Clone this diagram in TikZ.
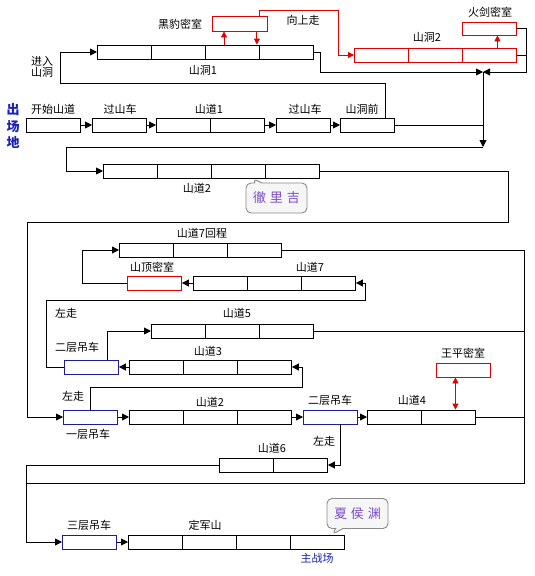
\documentclass[tikz,border=0pt]{standalone}
\usepackage{fontspec}
\newfontfamily\cjk{Noto Sans CJK SC}
\usepackage{tikz}
\usetikzlibrary{arrows.meta, shapes.callouts, calc}
\usepackage{xcolor}
\definecolor{roomred}{HTML}{E00000}
\definecolor{liftblue}{HTML}{1C1C9C}
\definecolor{inkblue}{HTML}{1A22B8}
\definecolor{callpurple}{HTML}{7A4BC8}
\definecolor{callgray}{HTML}{8A8A8A}

\begin{document}
\begin{tikzpicture}[x=1pt, y=-1pt, line width=0.9pt,
    every node/.style={font=\cjk\fontsize{11}{12}\selectfont},
    cell/.style={draw, minimum width=54pt, minimum height=14pt, inner sep=0pt, anchor=west},
    room/.style={cell, draw=roomred},
    lift/.style={cell, draw=liftblue},
    arr/.style={-{Triangle[length=7pt,width=7pt]}},
    redarr/.style={roomred, -{Triangle[length=6pt,width=6pt]}},
    callbox/.style={rectangle callout, draw=callgray, fill=callgray!8, rounded corners=5pt, minimum width=61pt, minimum height=30pt, text=callpurple, font=\cjk\fontsize{13}{13}\selectfont}]
        \path[use as bounding box, fill=white] (0,0) rectangle (535,576);

        % Start area
        \node[font=\cjk\bfseries\fontsize{13}{16.5}\selectfont, text=inkblue, align=center] (chu) at (13,126) {出\\场\\地};
        \node[cell] (start) at (26,125) {};
        \node (t-start) at (53,109) {开始山道};
        \node[cell] (car1) at (92,125) {};
        \node (t-car1) at (120,109) {过山车};
        \foreach \i in {1,2}
            \node[cell] (dao1-\i) at ({156+54*(\i-1)},125) {};
        \node (t-dao1) at (209,109) {山道1};
        \node[cell] (car2) at (276,125) {};
        \node (t-car2) at (305,109) {过山车};
        \node[cell] (qian) at (340,125) {};
        \node (t-qian) at (362,109) {山洞前};
        \draw[arr] (start.east) -- (car1.west);
        \draw[arr] (car1.east) -- (dao1-1.west);
        \draw[arr] (dao1-2.east) -- (car2.west);
        \draw[arr] (car2.east) -- (qian.west);

        % Cave 1 and the leopard room
        \foreach \i in {1,...,4}
            \node[cell] (dong1-\i) at ({97+54*(\i-1)},52) {};
        \node (t-dong1) at (203,70) {山洞1};
        \node[align=center, font=\cjk\fontsize{11}{11.5}\selectfont] (t-enter) at (42,67) {进入\\山洞};
        \draw[arr] ([xshift=18pt]qian.north) |- (60,83) |- (dong1-1.west);
        \node[room, minimum width=55pt, minimum height=15pt] (heibao) at (212,23.5) {};
        \node (t-heibao) at (180,24) {黑豹密室};
        \coordinate (up1) at ($(dong1-3.north west)+(19,0)$);
        \coordinate (dn1) at ($(dong1-3.north east)+(-3,0)$);
        \draw[redarr] (up1) -- (up1 |- heibao.south);
        \draw[redarr] (dn1 |- heibao.south) -- (dn1);

        % Cave 2 and the fire sword room
        \foreach \i in {1,2,3}
            \node[room] (dong2-\i) at ({354+54*(\i-1)},55) {};
        \node (t-dong2) at (427,37) {山洞2};
        \draw[redarr] ([xshift=-8pt]heibao.north east) |- (338,10) |- (dong2-1.west);
        \node (t-up) at (303,20) {向上走};
        \node[room, minimum height=13pt] (huojian) at (462,28.5) {};
        \node (t-huojian) at (490,12) {火剑密室};
        \draw[redarr] ([xshift=8pt]dong2-3.north) -- ([xshift=8pt]huojian.south);

        % Merge towards road 2
        \coordinate (junc) at (483,72);
        \coordinate (turn) at (483,147);
        \draw[arr] (huojian.east) -- (526,28.5) |- (junc);
        \draw (dong2-3.east) -- (526,55);
        \draw[arr] (dong1-4.east) -- (320,52) |- (junc);
        \draw[arr] (junc) -- (turn);
        \draw (qian.east) -- (qian.east -| turn);

        % Road 2
        \foreach \i in {1,...,4}
            \node[cell] (dao2a-\i) at ({103+54*(\i-1)},171) {};
        \node (t-dao2a) at (197,188) {山道2};
        \draw[arr] (turn) -- (66,147) |- (dao2a-1.west);
        \node[callbox, callout absolute pointer={($(dao2a-3.south east)+(-13,0)$)}] (cheli) at (276.5,198) {徹\hspace{4pt}里\hspace{4pt}吉};

        % Road 7 and its way back
        \foreach \i in {1,2,3}
            \node[cell] (hc-\i) at ({119+54*(\i-1)},250) {};
        \node (t-hc) at (202,233) {山道7回程};
        \node[room] (sdmz) at (127,283) {};
        \node (t-sdmz) at (152,267) {山顶密室};
        \foreach \i in {1,2,3}
            \node[cell] (dao7-\i) at ({193+54*(\i-1)},283) {};
        \node (t-dao7) at (310,267) {山道7};
        \draw[arr] (dao7-1.west) -- (sdmz.east);
        \draw[arr] (sdmz.west) -- ++(-45,0) |- (hc-1.west);

        % Road 5 and road 3
        \node[lift] (ych2a) at (64,367) {};
        \node (t-ych2a) at (77,347) {二层吊车};
        \foreach \i in {1,2,3}
            \node[cell] (dao5-\i) at ({151+54*(\i-1)},331) {};
        \node (t-dao5) at (237,313) {山道5};
        \foreach \i in {1,2,3}
            \node[cell] (dao3-\i) at ({129+54*(\i-1)},367) {};
        \node (t-dao3) at (208,351) {山道3};
        \draw[arr] (ych2a.west) -- ++(-18,0) |- (365,300) |- (dao7-3.east);
        \node (t-left1) at (66,313) {左走};
        \draw[arr] ([xshift=16pt]ych2a.north) |- (dao5-1.west);
        \draw[arr] (dao3-1.west) -- (ych2a.east);

        % Lower road 2, road 4 and Wang Ping's room
        \node[lift] (ych1) at (63,417) {};
        \node (t-ych1) at (88,434) {一层吊车};
        \foreach \i in {1,2,3}
            \node[cell] (dao2b-\i) at ({129+54*(\i-1)},417) {};
        \node (t-dao2b) at (210,402) {山道2};
        \node[lift] (ych2b) at (303,417) {};
        \node (t-ych2b) at (330,400) {二层吊车};
        \foreach \i in {1,2}
            \node[cell] (dao4-\i) at ({367+54*(\i-1)},417) {};
        \node (t-dao4) at (412,400) {山道4};
        \node[room] (wpmz) at (436,370) {};
        \node (t-wpmz) at (463,353) {王平密室};
        \draw[arr] (dao2a-4.east) -- (508,171) |- (27,222) |- (ych1.west);
        \draw[arr] (ych1.north) |- (302,387) |- (dao3-3.east);
        \node (t-left2) at (73,396) {左走};
        \draw[arr] (ych1.east) -- (dao2b-1.west);
        \draw[arr] (dao2b-3.east) -- (ych2b.west);
        \draw[arr] (ych2b.east) -- (dao4-1.west);
        \draw[roomred, {Triangle[length=6pt,width=6pt]}-{Triangle[length=6pt,width=6pt]}] ([xshift=-8pt]wpmz.south) -- ([xshift=-8pt]wpmz.south |- dao4-2.north);

        % Road 6
        \foreach \i in {1,2}
            \node[cell] (dao6-\i) at ({219+54*(\i-1)},465) {};
        \node (t-dao6) at (272,448) {山道6};
        \draw[arr] ([xshift=10pt]ych2b.south) |- (dao6-2.east);
        \node (t-left3) at (324,441) {左走};

        % Dingjun Mountain
        \node[lift] (ych3) at (62,542) {};
        \node (t-ych3) at (89,525) {三层吊车};
        \foreach \i in {1,...,4}
            \node[cell] (djs-\i) at ({128+54*(\i-1)},542) {};
        \node (t-djs) at (205,525) {定军山};
        \node[text=inkblue] (t-main) at (317,558) {主战场};
        \draw[arr] (ych3.east) -- (djs-1.west);
        \node[callbox, callout absolute pointer={($(djs-4.north west)+(42,0)$)}] (xiahou) at (357.5,513.5) {夏\hspace{4pt}侯\hspace{4pt}渊};

        % Right side collector down to the last lift
        \draw[arr] (hc-3.east) -- (524,250) |- (26,483) |- (ych3.west);
        \draw (dao5-3.east) -- (524,331);
        \draw (dao4-2.east) -- (524,417);
        \draw (dao6-1.west) -| (26,483);
    \end{tikzpicture}
\end{document}
